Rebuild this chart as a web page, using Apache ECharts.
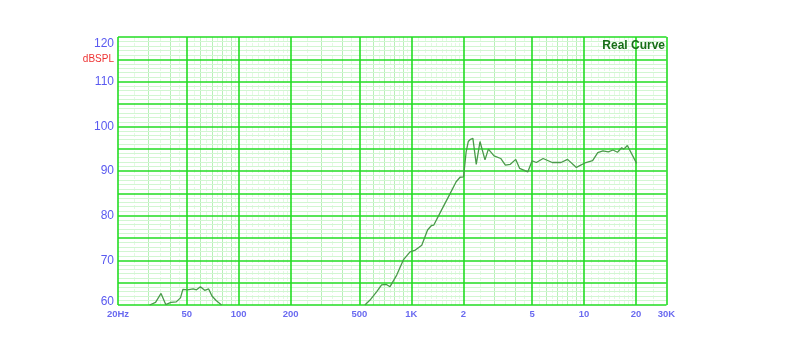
<!DOCTYPE html>
<html>
<head>
<meta charset="utf-8">
<script src="https://cdn.jsdelivr.net/npm/echarts@6/dist/echarts.min.js"></script>
<style>html,body{margin:0;padding:0;background:#fff;}#c{width:800px;height:359px;}</style>
</head>
<body>
<div id="c"></div>
<script>
// Frequency (Hz) and SPL (dB)
const freq = [30.5, 33, 35.5, 37.8, 40.5, 43.5, 46, 47.5, 50.5, 54.5, 57, 60, 63.5, 67, 70, 74, 79.5,
  538, 576, 630, 672, 716, 752, 822, 898, 982, 1054, 1148, 1240, 1307, 1348, 1496, 1678, 1816, 1914, 2004,
  2075, 2134, 2200, 2270, 2374, 2496, 2667, 2790, 3010, 3290, 3500, 3740, 4020, 4230, 4720, 5000, 5290,
  5790, 6540, 7350, 8020, 9020, 10240, 11200, 12000, 12860, 13800, 14700, 15600, 16500, 17000, 17800, 20140];
const spl = [60, 60.6, 62.6, 60.1, 60.6, 60.7, 61.6, 63.5, 63.4, 63.6, 63.4, 64.1, 63.3, 63.6, 62, 61, 60,
  60, 61.1, 63, 64.5, 64.6, 64.1, 66.7, 70.1, 71.9, 72.3, 73.4, 76.8, 77.8, 77.9, 81.3, 85, 87.6, 88.6, 88.7,
  94.3, 96.6, 97.1, 97.3, 91.5, 96.6, 92.5, 94.9, 93.4, 92.8, 91.3, 91.5, 92.6, 90.6, 89.8, 92.3, 91.9,
  92.8, 91.9, 91.9, 92.6, 90.8, 91.9, 92.3, 94.1, 94.5, 94.3, 94.7, 94.2, 95.2, 94.9, 95.7, 91.7];
// The low-frequency segment is separate from the main curve
const lowSegmentEnd = 17;

// X tick labels
const xTickValues = [20, 50, 100, 200, 500, 1000, 2000, 5000, 10000, 20000, 30000];
const xTickLabels = ['20Hz', '50', '100', '200', '500', '1K', '2', '5', '10', '20', '30K'];
// Y ticks
const yMin = 60, yMax = 120, yStep = 5;
const yUnitLabel = 'dBSPL';

// grid line values
const majorX = xTickValues.slice();
const lightX = [], faintX = [];
[10, 100, 1000, 10000].forEach(d => {
  for (let k = 1.1; k < 1.95; k += 0.1) {
    const v = +(d * k).toFixed(3);
    if (v > 20 && v < 30000) faintX.push(v);
  }
  for (let k = 2; k <= 9; k++) {
    const v = d * k;
    if (v > 20 && v < 30000 && majorX.indexOf(v) < 0) lightX.push(v);
    const h = d * (k + 0.5);
    if (h > 20 && h < 30000) faintX.push(h);
  }
});

const pts1 = [], pts2 = [];
for (let i = 0; i < freq.length; i++) {
  (i < lowSegmentEnd ? pts1 : pts2).push([freq[i], spl[i]]);
}

function ml(vals, color, width, type, z) {
  return {
    type: 'line', data: [], z: z, silent: true,
    markLine: {
      z: z,
      silent: true, symbol: 'none', animation: false,
      label: {show: false},
      lineStyle: {color: color, width: width, type: type || 'solid'},
      data: vals.map(v => ({xAxis: v}))
    }
  };
}

const FONT = 'Liberation Sans, Arial, sans-serif';
const chart = echarts.init(document.getElementById('c'), null, {renderer: 'canvas'});
chart.setOption({
  animation: false,
  backgroundColor: '#ffffff',
  grid: {left: 118, right: 133.5, top: 37, bottom: 54, containLabel: false},
  xAxis: {
    type: 'log', logBase: 10, min: 20, max: 30000,
    axisLine: {show: false},
    axisTick: {show: false},
    splitLine: {show: false},
    axisLabel: {
      customValues: xTickValues,
      margin: 4,
      fontFamily: FONT,
      fontSize: 9.5, fontWeight: 'bold', color: '#6a6af0',
      formatter: v => {
        for (let i = 0; i < xTickValues.length; i++) {
          if (Math.abs(xTickValues[i] - v) / v < 1e-6) return xTickLabels[i];
        }
        return '';
      }
    }
  },
  yAxis: {
    type: 'value', min: yMin, max: yMax, interval: yStep, z: 2,
    axisLine: {show: false},
    axisTick: {show: false},
    splitLine: {show: true, lineStyle: {color: '#22dd22', width: 1.6}},
    minorTick: {show: false, splitNumber: 5},
    minorSplitLine: {show: true, lineStyle: {color: '#d2f6d2', width: 1}},
    axisLabel: {
      margin: 4,
      fontFamily: FONT,
      fontSize: 12, color: '#5a5af0',
      formatter: v => {
        if (v === yMax) return '{t|' + v + '}';
        if (v === yMin) return '{b|' + v + '}';
        if (v === yMax - yStep) return '{u|' + yUnitLabel + '}';
        if (v % 10 === 0) return String(v);
        return '';
      },
      rich: {
        u: {color: '#ee3333', fontSize: 10, fontFamily: FONT},
        t: {color: '#5a5af0', fontSize: 12, fontFamily: FONT, padding: [13, 0, 0, 0]},
        b: {color: '#5a5af0', fontSize: 12, fontFamily: FONT, padding: [0, 0, 6, 0]}
      }
    }
  },
  graphic: [{
    type: 'text', right: 135, top: 40, z: 10,
    style: {text: 'Real Curve', font: 'bold 12px "Liberation Sans", Arial, sans-serif', fill: '#176e17'}
  }],
  series: [
    ml(faintX, '#e4f9e4', 1, 'dashed', 0),
    ml(lightX, '#b8f0b8', 1, 'solid', 1),
    ml(majorX, '#22dd22', 1.6, 'solid', 3),
    {type: 'line', data: pts1, z: 6, showSymbol: false, symbol: 'none', lineStyle: {color: '#4a9a4a', width: 1.3}},
    {type: 'line', data: pts2, z: 6, showSymbol: false, symbol: 'none', lineStyle: {color: '#4a9a4a', width: 1.3}}
  ]
});
</script>
</body>
</html>
